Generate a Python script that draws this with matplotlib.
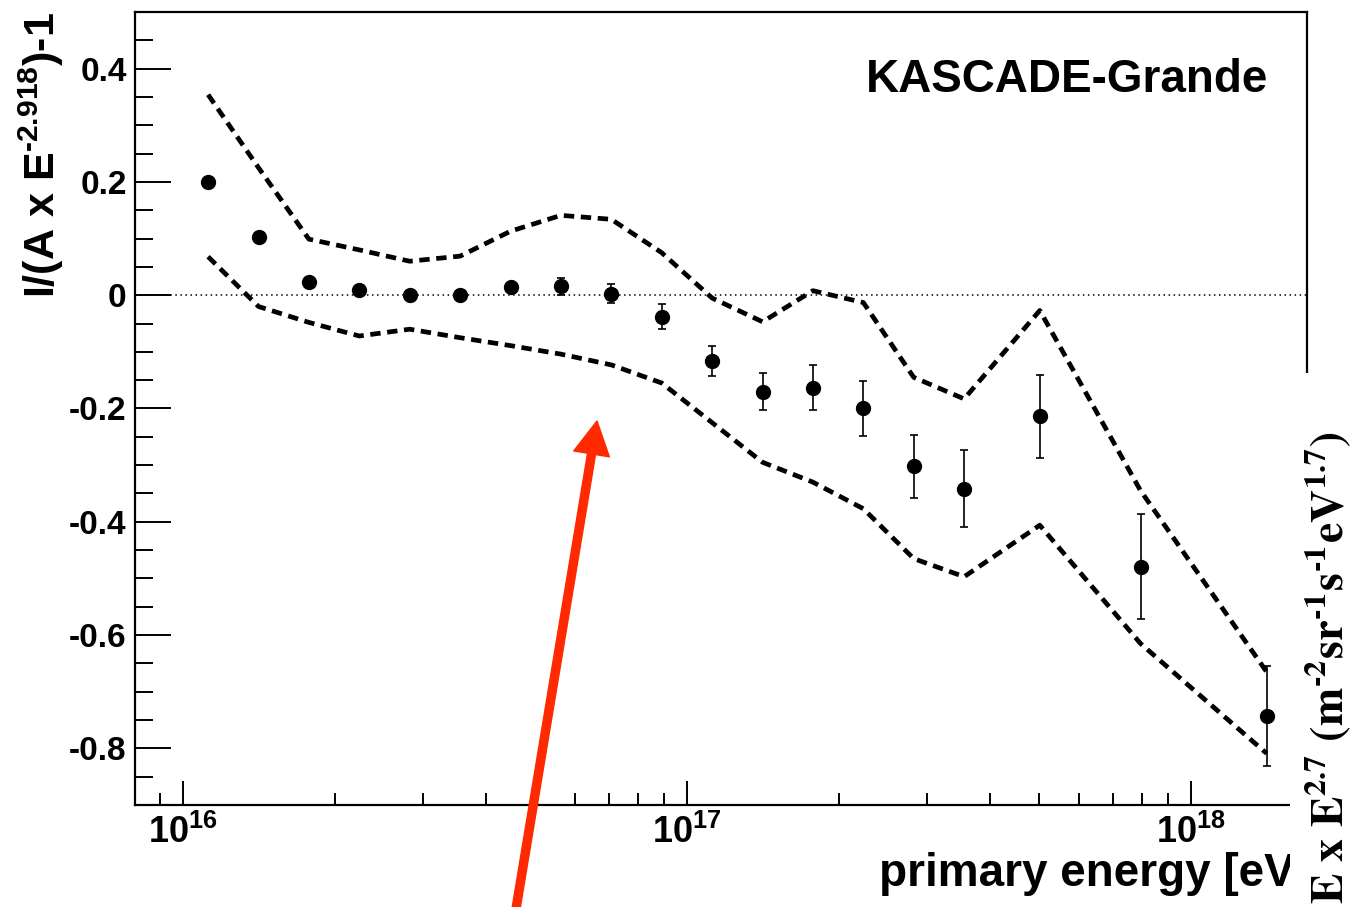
import matplotlib
matplotlib.use("Agg")
import matplotlib.pyplot as plt
from matplotlib.ticker import FixedLocator, FixedFormatter, LogLocator, NullFormatter, MultipleLocator
from matplotlib.patches import Rectangle, FancyArrowPatch

# ---------------- data ----------------
energy = [1.122e16, 1.413e16, 1.778e16, 2.239e16, 2.818e16, 3.548e16, 4.467e16,
          5.623e16, 7.079e16, 8.913e16, 1.122e17, 1.413e17, 1.778e17, 2.239e17,
          2.818e17, 3.548e17, 5.012e17, 7.943e17, 1.413e18]
ratio = [0.200, 0.103, 0.024, 0.010, 0.001, 0.000, 0.015, 0.016, 0.003, -0.038,
         -0.116, -0.170, -0.163, -0.200, -0.302, -0.342, -0.214, -0.479, -0.743]
ratio_err = [0.003, 0.004, 0.004, 0.005, 0.005, 0.005, 0.006, 0.015, 0.017, 0.022,
             0.026, 0.032, 0.040, 0.048, 0.056, 0.068, 0.073, 0.092, 0.089]
band_upper = [0.354, 0.225, 0.099, 0.080, 0.060, 0.069, 0.113, 0.141, 0.134, 0.075,
              -0.005, -0.047, 0.008, -0.013, -0.145, -0.183, -0.027, -0.345, -0.665]
band_lower = [0.068, -0.020, -0.048, -0.072, -0.060, -0.075, -0.089, -0.104, -0.123, -0.155,
              -0.225, -0.295, -0.330, -0.377, -0.465, -0.497, -0.406, -0.615, -0.809]

xtick_values = [1e16, 1e17, 1e18]
xtick_labels = [r'$10^{16}$', r'$10^{17}$', r'$10^{18}$']
ytick_values = [-0.8, -0.6, -0.4, -0.2, 0.0, 0.2, 0.4]
ytick_labels = ['-0.8', '-0.6', '-0.4', '-0.2', '0', '0.2', '0.4']

# ---------------- style ----------------
plt.rcParams['font.family'] = ['Liberation Sans', 'DejaVu Sans']
plt.rcParams['font.weight'] = 'bold'
plt.rcParams['mathtext.fontset'] = 'custom'
plt.rcParams['mathtext.rm'] = 'Liberation Sans:bold'
plt.rcParams['mathtext.bf'] = 'Liberation Sans:bold'
plt.rcParams['mathtext.it'] = 'Liberation Sans:bold'
plt.rcParams['mathtext.default'] = 'bf'

W, H = 1356, 907
fig = plt.figure(figsize=(W / 100, H / 100), dpi=100)

def fx(x):
    return x / W

def fy(y):
    return 1 - y / H

ax = fig.add_axes([fx(135), fy(805), fx(1307) - fx(135), fy(12) - fy(805)])
ax.set_xscale('log')
ax.set_xlim(8.035e15, 1.699e18)
ax.set_ylim(-0.9, 0.5)

# zero reference line
ax.axhline(0, color='black', lw=1.1, ls=(0, (1, 2.3)), zorder=1)

# systematic band
for band in (band_upper, band_lower):
    ax.plot(energy, band, color='black', lw=3.4, ls=(0, (2.2, 1.4)), zorder=2)

# data points
ax.errorbar(energy, ratio, yerr=ratio_err, fmt='o', color='black', ms=10,
            elinewidth=1.2, capsize=3, capthick=1.2, zorder=3)

# axes styling
for s in ax.spines.values():
    s.set_linewidth(1.6)

ax.xaxis.set_major_locator(FixedLocator(xtick_values))
ax.xaxis.set_major_formatter(FixedFormatter(xtick_labels))
ax.xaxis.set_minor_locator(LogLocator(base=10, subs=[2, 3, 4, 5, 6, 7, 8, 9], numticks=20))
ax.xaxis.set_minor_formatter(NullFormatter())
ax.yaxis.set_major_locator(FixedLocator(ytick_values))
ax.yaxis.set_major_formatter(FixedFormatter(ytick_labels))
ax.yaxis.set_minor_locator(MultipleLocator(0.05))

ax.tick_params(axis='y', which='major', direction='in', length=26, width=1.4,
               labelsize=24, pad=6)
ax.tick_params(axis='y', which='minor', direction='in', length=13, width=1.4)
ax.tick_params(axis='x', which='major', direction='in', length=17, width=1.4,
               labelsize=26, pad=7)
ax.tick_params(axis='x', which='minor', direction='in', length=8.5, width=1.4)

# titles
fig.text(fx(55), fy(12), 'I/(A x E$^{\u2010 2.918}$)-1', rotation=90, rotation_mode='anchor',
         ha='right', va='baseline', fontsize=31, fontweight='bold')
fig.text(fx(1310), fy(886), 'primary energy [eV]', ha='right', va='baseline',
         fontsize=33, fontweight='bold')
fig.text(fx(1268), fy(92), 'KASCADE-Grande', ha='right', va='baseline',
         fontsize=33, fontweight='bold')

# overlapping fragment on the right
fig.add_artist(Rectangle((fx(1290), 0), 1 - fx(1290), fy(373), transform=fig.transFigure,
                         facecolor='white', edgecolor='none', zorder=5))
fig.text(fx(1343), fy(904),
         '$\\mathbf{E\\ x\\ E^{2.7}\\ (m^{\u20102}sr^{\u20101}s^{\u20101}eV^{1.7})}$',
         rotation=90, rotation_mode='anchor', ha='left', va='baseline',
         fontsize=33, math_fontfamily='stix', zorder=7)

# red arrow
fig.add_artist(FancyArrowPatch((fx(515), fy(915)), (fx(597), fy(421)),
                               transform=fig.transFigure,
                               arrowstyle='simple,head_length=24,head_width=26,tail_width=5.8',
                               mutation_scale=1, color='#ff2a00', shrinkA=0, shrinkB=0,
                               zorder=6))

fig.savefig('out.png', dpi=100)
